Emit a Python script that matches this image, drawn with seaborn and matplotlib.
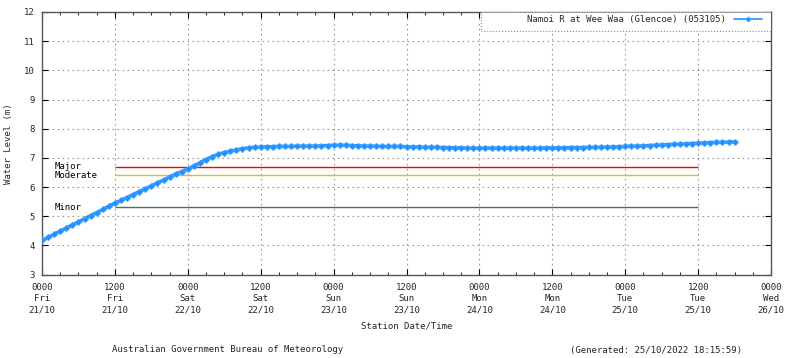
import matplotlib
matplotlib.use("Agg")
import matplotlib.pyplot as plt
import seaborn as sns
import pandas as pd
from matplotlib.ticker import MultipleLocator
from matplotlib.patches import Rectangle

# ---- data ----
series_name = "Namoi R at Wee Waa (Glencoe) (053105)"
hours = list(range(0, 115))
levels = [
    4.17, 4.27, 4.38, 4.49, 4.59, 4.70, 4.80, 4.91, 5.02, 5.12, 5.23, 5.34, 5.45,
    5.54, 5.64, 5.74, 5.84, 5.94, 6.04, 6.14, 6.24, 6.34, 6.44, 6.53, 6.62,
    6.72, 6.83, 6.94, 7.04, 7.12, 7.18, 7.23, 7.27, 7.31, 7.34, 7.36, 7.37,
    7.38, 7.38, 7.39, 7.39, 7.39, 7.40, 7.40, 7.40, 7.40, 7.41, 7.42,
    7.43, 7.43, 7.43, 7.42, 7.41,
    7.40, 7.40, 7.40, 7.39, 7.39, 7.39, 7.39, 7.38,
    7.37, 7.37, 7.36, 7.36, 7.36, 7.35, 7.35, 7.34,
    7.34, 7.33, 7.33, 7.33, 7.33, 7.33, 7.33, 7.33, 7.33, 7.33, 7.33, 7.33, 7.33,
    7.33, 7.34, 7.34, 7.34, 7.34, 7.35, 7.35, 7.35, 7.36, 7.36, 7.36, 7.37, 7.37, 7.38,
    7.39, 7.40, 7.40, 7.41, 7.42, 7.43, 7.44, 7.45, 7.46, 7.47, 7.48, 7.49, 7.50,
    7.51, 7.52, 7.53, 7.53, 7.54, 7.55,
]

threshold_names = ["Major", "Moderate", "Minor"]
threshold_values = [6.7, 6.4, 5.3]
threshold_colors = ["#ff0000", "#e8b438", "#2f7f4f"]
threshold_start = 12
threshold_end = 108

tick_times = ["0000", "1200", "0000", "1200", "0000", "1200", "0000", "1200", "0000", "1200", "0000"]
tick_days = ["Fri", "Fri", "Sat", "Sat", "Sun", "Sun", "Mon", "Mon", "Tue", "Tue", "Wed"]
tick_dates = ["21/10", "21/10", "22/10", "22/10", "23/10", "23/10", "24/10", "24/10", "25/10", "25/10", "26/10"]
tick_hours = [0, 12, 24, 36, 48, 60, 72, 84, 96, 108, 120]
y_ticks = [3, 4, 5, 6, 7, 8, 9, 10, 11, 12]

# ---- style ----
sns.set_style("white")
plt.rcParams["font.family"] = ["DejaVu Sans Mono"]
FS = 6.5

fig = plt.figure(figsize=(8.0, 3.58), dpi=100)
ax = fig.add_axes([0.0525, 0.2332, 0.9113, 0.7333])

df = pd.DataFrame({"hours": hours, "level": levels})
sns.lineplot(data=df, x="hours", y="level", ax=ax, color="#1e90ff",
             marker="D", markersize=3.4, markeredgewidth=0.4, markeredgecolor="#5aaeff",
             linewidth=2.6, label=series_name, zorder=5)

for name, val, col in zip(threshold_names, threshold_values, threshold_colors):
    ax.hlines(val, threshold_start, threshold_end, color=col, linewidth=1, zorder=3)
    ax.text(2, val, name, fontsize=FS, ha="left", va="center", color="black")

ax.set_xlim(0, 120)
ax.set_ylim(3, 12)
ax.set_xticks(tick_hours)
ax.set_xticklabels([f"{a}\n{b}\n{c}" for a, b, c in zip(tick_times, tick_days, tick_dates)],
                   fontsize=FS, linespacing=1.35)
ax.xaxis.set_minor_locator(MultipleLocator(3))
ax.set_yticks(y_ticks)
ax.set_yticklabels([str(v) for v in y_ticks], fontsize=FS)

ax.grid(True, which="major", linestyle=(0, (1.5, 3)), color="#999999", linewidth=0.8)
ax.tick_params(which="both", direction="in", top=True, right=True, bottom=True, left=True,
               color="black")
ax.tick_params(axis="x", which="major", length=4, width=0.8, pad=6)
ax.tick_params(axis="y", which="major", length=4, width=0.8, pad=5)
ax.tick_params(which="minor", length=2, width=0.6)
for s in ax.spines.values():
    s.set_color("#555555")
    s.set_linewidth(1.0)

ax.set_xlabel("Station Date/Time", fontsize=FS, labelpad=5)
ax.set_ylabel("Water Level (m)", fontsize=FS, labelpad=8)

# legend box (dotted frame spanning like the reference) and legend content
box = Rectangle((0.602, 0.928), 0.398, 0.072, transform=ax.transAxes, facecolor="white",
                edgecolor="#888888", linestyle=":", linewidth=0.8, zorder=6)
ax.add_patch(box)
leg = ax.legend(loc="upper right", bbox_to_anchor=(0.992, 0.998), markerfirst=False,
                fontsize=FS, frameon=False, borderaxespad=0, handlelength=3.2,
                handletextpad=0.9, borderpad=0.3)
leg.set_zorder(7)
for ln in leg.get_lines():
    ln.set_linewidth(1.2)
    ln.set_markersize(2.8)

fig.text(228 / 800, 1 - 350 / 358, "Australian Government Bureau of Meteorology",
         fontsize=FS, ha="center", va="center")
fig.text(656 / 800, 1 - 350 / 358, "(Generated: 25/10/2022 18:15:59)",
         fontsize=FS, ha="center", va="center")

fig.savefig("out.png", dpi=100, facecolor="white")
